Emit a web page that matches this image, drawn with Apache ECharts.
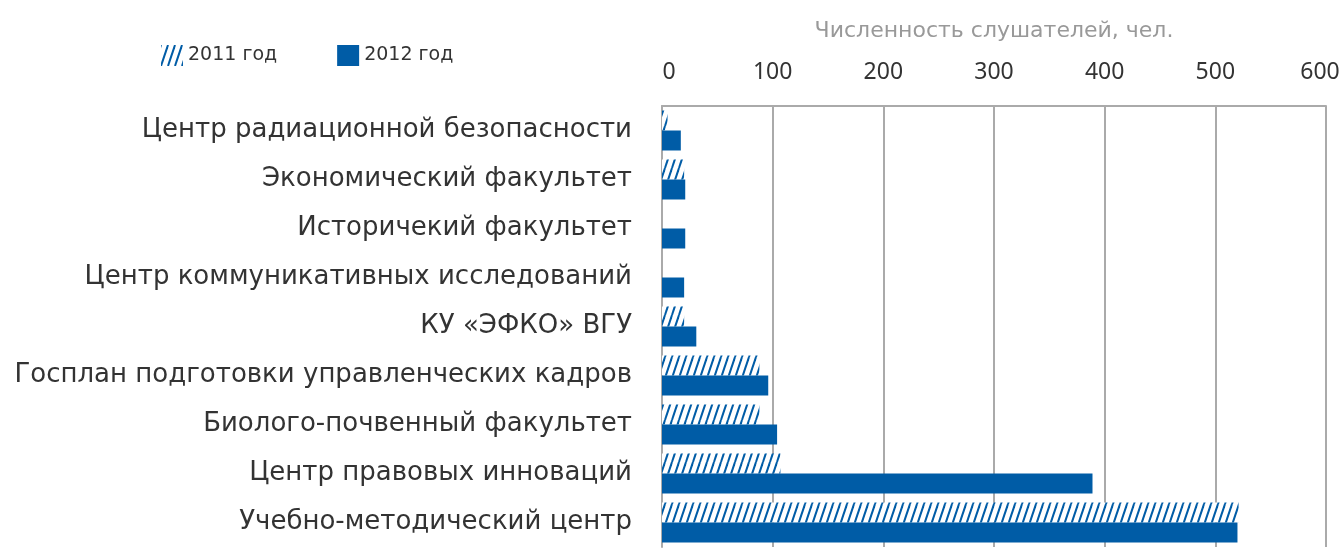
<!DOCTYPE html>
<html>
<head>
<meta charset="utf-8">
<script src="https://cdn.jsdelivr.net/npm/echarts@6/dist/echarts.min.js"></script>
<style>
  html, body { margin: 0; padding: 0; background: #fff; }
  #main { width: 1341px; height: 559px; }
</style>
</head>
<body>
<div id="main"></div>
<script>
// данные
var categories = [
  'Центр радиационной безопасности',
  'Экономический факультет',
  'Историчекий факультет',
  'Центр коммуникативных исследований',
  'КУ «ЭФКО» ВГУ',
  'Госплан подготовки управленческих кадров',
  'Биолого-почвенный факультет',
  'Центр правовых инноваций',
  'Учебно-методический центр'
];
var values2011 = [5, 20, 0, 0, 20, 88, 88, 107, 521];
var values2012 = [17, 21, 21, 20, 31, 96, 104, 389, 520];
var seriesNames = ['2011 год', '2012 год'];
var axisTitle = 'Численность слушателей, чел.';
var xMin = 0, xMax = 600, xStep = 100;

var blue = '#005ca6';

// штриховка для 2011
function makeHatch() {
  var c = document.createElement('canvas');
  c.width = 7;
  c.height = 21;
  var ctx = c.getContext('2d');
  ctx.fillStyle = '#fff';
  ctx.fillRect(0, 0, 7, 21);
  ctx.strokeStyle = blue;
  ctx.lineWidth = 2;
  [-7, 0, 7].forEach(function (dx) {
    ctx.beginPath();
    ctx.moveTo(dx, 21);
    ctx.lineTo(dx + 7, 0);
    ctx.stroke();
  });
  return c;
}
var hatch = { image: makeHatch(), repeat: 'repeat' };

var tickFont = { fontFamily: 'Noto Sans', fontSize: 23, color: '#333' };

var chart = echarts.init(document.getElementById('main'));
chart.setOption({
  animation: false,
  textStyle: { fontFamily: 'DejaVu Sans' },
  legend: {
    left: 156,
    top: 40,
    icon: 'rect',
    itemWidth: 22,
    itemHeight: 21,
    itemGap: 60,
    textStyle: { fontSize: 19, color: '#333' },
    data: seriesNames
  },
  grid: { left: 662, right: 15, top: 106, bottom: 12, outerBoundsMode: 'none', containLabel: false },
  xAxis: {
    type: 'value',
    position: 'top',
    min: xMin,
    max: xMax,
    interval: xStep,
    name: axisTitle,
    nameLocation: 'middle',
    nameGap: 64,
    nameTextStyle: { fontSize: 22, color: '#999' },
    axisLine: { show: true, lineStyle: { color: '#aaa', width: 2 } },
    axisTick: { show: false },
    axisLabel: Object.assign({
      margin: 22,
      // крайние подписи чуть сдвинуты внутрь
      formatter: function (v) {
        if (v === xMin) return '{lo|' + v + '}';
        if (v === xMax) return '{hi|' + v + '}';
        return String(v);
      },
      rich: {
        lo: Object.assign({ padding: [0, 0, 0, 14] }, tickFont),
        hi: Object.assign({ padding: [0, 12, 0, 0] }, tickFont)
      }
    }, tickFont),
    splitLine: { lineStyle: { color: '#aaa', width: 2 } }
  },
  yAxis: {
    type: 'category',
    inverse: true,
    data: categories,
    axisLine: { show: true, lineStyle: { color: '#aaa', width: 2 } },
    axisTick: { show: false },
    axisLabel: { fontSize: 26, color: '#333', margin: 30 }
  },
  series: [
    {
      name: seriesNames[0],
      type: 'bar',
      data: values2011,
      barWidth: 20,
      barGap: '0%',
      itemStyle: { color: hatch }
    },
    {
      name: seriesNames[1],
      type: 'bar',
      data: values2012,
      barWidth: 20,
      itemStyle: { color: blue }
    }
  ]
});
</script>
</body>
</html>
